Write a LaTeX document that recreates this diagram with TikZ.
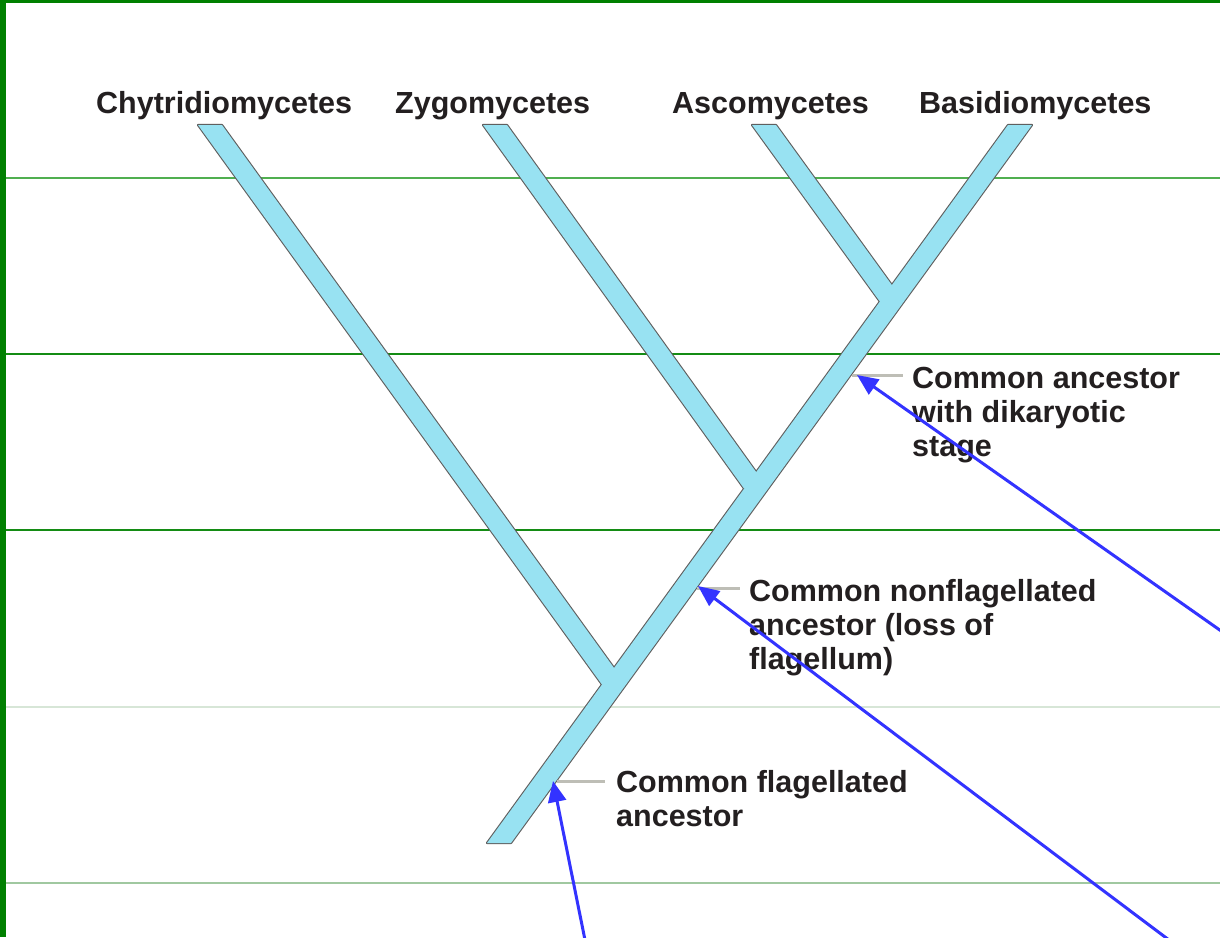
\documentclass[tikz,border=0pt]{standalone}
\usepackage{fontspec}
\setmainfont{Liberation Sans}
\usetikzlibrary{arrows.meta}
\definecolor{branchfill}{RGB}{152,226,242}
\definecolor{branchline}{RGB}{95,95,95}
\definecolor{framegreen}{RGB}{0,128,0}
\definecolor{gridA}{RGB}{80,175,80}
\definecolor{gridB}{RGB}{20,140,20}
\definecolor{gridC}{RGB}{215,230,215}
\definecolor{gridD}{RGB}{160,200,160}
\definecolor{arrowblue}{RGB}{51,51,255}
\definecolor{leadergray}{RGB}{190,190,182}
\definecolor{txt}{RGB}{35,31,32}
\begin{document}
\begin{tikzpicture}[x=1pt,y=-1pt,
  lbl/.style={font=\fontsize{30.5}{34}\selectfont\bfseries, text=txt, inner sep=0pt, anchor=base west, align=left},
  branchout/.style={draw=branchline, line width=2.2pt, line join=round},
  branchin/.style={fill=branchfill},
  leaderline/.style={draw=leadergray, line width=3pt},
  bluearrow/.style={draw=arrowblue, line width=3pt, -{Triangle[length=21pt,width=18pt]}},
  gridline/.style={line width=1.2pt}]
\useasboundingbox (0,0) rectangle (1220,937);
\fill[white] (0,0) rectangle (1220,937);
% frame
\fill[framegreen] (0,0) rectangle (6,937);
\fill[framegreen] (0,0) rectangle (1220,2.5);
% horizontal rules
\draw[gridline, gridA] (6,178) -- (1220,178);
\draw[gridline, gridB] (6,354) -- (1220,354);
\draw[gridline, gridB] (6,530) -- (1220,530);
\draw[gridline, gridC] (6,707) -- (1220,707);
\draw[gridline, gridD] (6,883) -- (1220,883);
% tree: outline pass
\path[branchout] (487,843) -- (511,843) -- (1032,125) -- (1008,125) -- cycle;
\path[branchout] (198,125) -- (222,125) -- (621.3,678) -- (602.3,685) -- cycle;
\path[branchout] (483,125) -- (507,125) -- (763.3,482) -- (744,488.5) -- cycle;
\path[branchout] (752,125) -- (776,125) -- (899,294.9) -- (879.9,301.6) -- cycle;
% tree: fill pass
\path[branchin] (487,843) -- (511,843) -- (1032,125) -- (1008,125) -- cycle;
\path[branchin] (198,125) -- (222,125) -- (621.3,678) -- (602.3,685) -- cycle;
\path[branchin] (483,125) -- (507,125) -- (763.3,482) -- (744,488.5) -- cycle;
\path[branchin] (752,125) -- (776,125) -- (899,294.9) -- (879.9,301.6) -- cycle;
% taxon labels
\node[lbl] (chy) at (96,113.5) {Chytridiomycetes};
\node[lbl] (zyg) at (395,113.5) {Zygomycetes};
\node[lbl] (asc) at (672,113.5) {Ascomycetes};
\node[lbl] (bas) at (919,113.5) {Basidiomycetes};
% annotation labels (anchor = baseline of last line)
\node[lbl] (dik) at (912,456) {Common ancestor\\with dikaryotic\\stage};
\node[lbl] (nonf) at (749,669) {Common nonflagellated\\ancestor (loss of\\flagellum)};
\node[lbl] (flag) at (616,826) {Common flagellated\\ancestor};
% leader lines
\coordinate (k1) at (852,375); \coordinate (e1) at (903,375);
\coordinate (k2) at (697,588); \coordinate (e2) at (740,588);
\coordinate (k3) at (557,781); \coordinate (e3) at (605,781);
\draw[leaderline] (k1) -- (e1);
\draw[leaderline] (k2) -- (e2);
\draw[leaderline] (k3) -- (e3);
% blue arrows
\coordinate (s1) at (585,940); \coordinate (t1) at (553,781);
\coordinate (s2) at (1169,940); \coordinate (t2) at (698,586);
\coordinate (s3) at (1224,633); \coordinate (t3) at (857,375);
\draw[bluearrow] (s1) -- (t1);
\draw[bluearrow] (s2) -- (t2);
\draw[bluearrow] (s3) -- (t3);
\end{tikzpicture}
\end{document}
